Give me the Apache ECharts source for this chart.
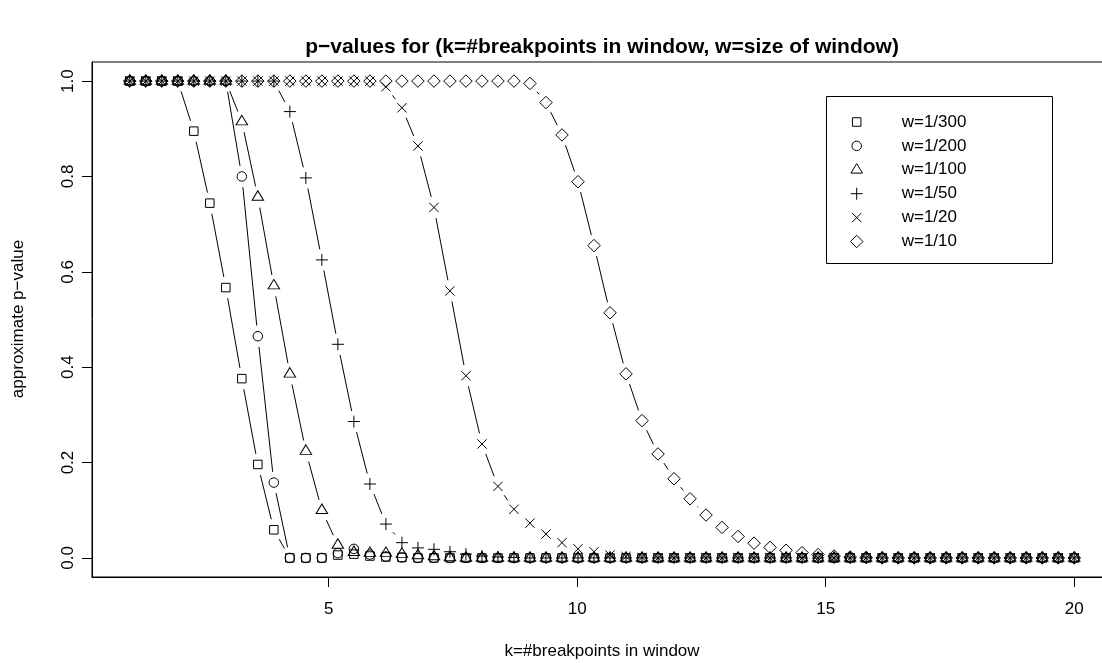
<!DOCTYPE html>
<html><head><meta charset="utf-8">
<script src="https://cdn.jsdelivr.net/npm/echarts@6/dist/echarts.min.js"></script>
<style>html,body{margin:0;padding:0;background:#fff}#c{width:1102px;height:663px}</style>
</head><body><div id="c"></div>
<script>
// ---- data ----
const kValues = [1.000,1.322,1.644,1.966,2.288,2.610,2.932,3.254,3.576,3.898,
  4.220,4.542,4.864,5.186,5.508,5.831,6.153,6.475,6.797,7.119,
  7.441,7.763,8.085,8.407,8.729,9.051,9.373,9.695,10.017,10.339,
  10.661,10.983,11.305,11.627,11.949,12.271,12.593,12.915,13.237,13.559,
  13.881,14.203,14.525,14.847,15.169,15.492,15.814,16.136,16.458,16.780,
  17.102,17.424,17.746,18.068,18.390,18.712,19.034,19.356,19.678,20.000];
const pW300 = [1,1,1,1,0.895,0.744,0.567,0.376,0.196,0.059,
  0,0,0,0.006,0.008,0.004,0.002,0.001,0,0,
  0,0,0,0,0,0,0,0,0,0, 0,0,0,0,0,0,0,0,0,0,
  0,0,0,0,0,0,0,0,0,0, 0,0,0,0,0,0,0,0,0,0];
const pW200 = [1,1,1,1,1,1,1,0.800,0.465,0.158,
  0,0,0,0.010,0.019,0.007,0.003,0.001,0,0,
  0,0,0,0,0,0,0,0,0,0, 0,0,0,0,0,0,0,0,0,0,
  0,0,0,0,0,0,0,0,0,0, 0,0,0,0,0,0,0,0,0,0];
const pW100 = [1,1,1,1,1,1,1,0.915,0.757,0.571,
  0.386,0.224,0.100,0.027,0.012,0.010,0.010,0.008,0.005,0.003,
  0.001,0,0,0,0,0,0,0,0,0, 0,0,0,0,0,0,0,0,0,0,
  0,0,0,0,0,0,0,0,0,0, 0,0,0,0,0,0,0,0,0,0];
const pW50 = [1,1,1,1,1,1,1,1,1,1,
  0.936,0.797,0.625,0.448,0.286,0.155,0.071,0.032,0.021,0.018,
  0.013,0.008,0.004,0.002,0.001,0,0,0,0,0,
  0,0,0,0,0,0,0,0,0,0, 0,0,0,0,0,0,0,0,0,0,
  0,0,0,0,0,0,0,0,0,0];
const pW20 = [1,1,1,1,1,1,1,1,1,1,
  1,1,1,1,1,1,0.988,0.944,0.864,0.735,
  0.560,0.382,0.239,0.150,0.102,0.073,0.050,0.032,0.019,0.013,
  0.006,0.003,0.001,0,0,0,0,0,0,0,
  0,0,0,0,0,0,0,0,0,0, 0,0,0,0,0,0,0,0,0,0];
const pW10 = [1,1,1,1,1,1,1,1,1,1,
  1,1,1,1,1,1,1,1,1,1,
  1,1,1,1,1,0.995,0.955,0.887,0.789,0.655,
  0.514,0.386,0.288,0.218,0.166,0.124,0.090,0.064,0.045,0.031,
  0.022,0.016,0.011,0.007,0.004,0.002,0.001,0,0,0,
  0,0,0,0,0,0,0,0,0,0];
const seriesNames = ['w=1/300','w=1/200','w=1/100','w=1/50','w=1/20','w=1/10'];
const xTicks = [5, 10, 15, 20];
const yTicks = [0, 0.2, 0.4, 0.6, 0.8, 1.0];
const titleText = 'p\u2212values for (k=#breakpoints in window, w=size of window)';
const xLabel = 'k=#breakpoints in window';
const yLabel = 'approximate p\u2212value';

// ---- styling ----
const FONT = 'Liberation Sans, Arial, Helvetica, sans-serif';
const allY = [pW300, pW200, pW100, pW50, pW20, pW10];
const symbols = [
  {symbol: 'rect', size: 8.5, offset: [0, 0]},
  {symbol: 'circle', size: 9.5, offset: [0, 0]},
  {symbol: 'triangle', size: [11.5, 9.5], offset: [0, -1.5]},
  {symbol: 'path://M0,6L12,6M6,0L6,12', size: 12, offset: [0, 0]},
  {symbol: 'path://M0,0L10,10M10,0L0,10', size: 9.3, offset: [0, 0]},
  {symbol: 'diamond', size: 12.5, offset: [0, 0]}
];
const GAP = 10.8;

function segRender(params, api) {
  const p0 = api.coord([api.value(0), api.value(1)]);
  const p1 = api.coord([api.value(2), api.value(3)]);
  const dx = p1[0] - p0[0], dy = p1[1] - p0[1];
  const L = Math.sqrt(dx * dx + dy * dy);
  if (L <= 2 * GAP) return {type: 'group', children: []};
  const ux = dx / L, uy = dy / L;
  return {
    type: 'line',
    shape: {x1: p0[0] + ux * GAP, y1: p0[1] + uy * GAP, x2: p1[0] - ux * GAP, y2: p1[1] - uy * GAP},
    style: {stroke: '#000', lineWidth: 1}
  };
}

const series = [];
allY.forEach((ys, s) => {
  const segs = [];
  for (let i = 1; i < kValues.length; i++) segs.push([kValues[i - 1], ys[i - 1], kValues[i], ys[i]]);
  series.push({
    type: 'custom', name: seriesNames[s] + ' lines', renderItem: segRender, data: segs,
    encode: {x: [0, 2], y: [1, 3]}, silent: true, clip: false, z: 2
  });
  series.push({
    type: 'scatter', name: seriesNames[s],
    data: kValues.map((k, i) => [k, ys[i]]),
    symbol: symbols[s].symbol, symbolSize: symbols[s].size, symbolOffset: symbols[s].offset,
    itemStyle: {color: 'rgba(0,0,0,0)', borderColor: '#000', borderWidth: 1, opacity: 1},
    silent: true, z: 3
  });
});

// legend drawn as graphic elements
const LX = 856.7, TX = 901.7, LY0 = 122, LDY = 23.9;
const legendEls = [{type: 'rect', shape: {x: 826.5, y: 96.5, width: 226, height: 167}, style: {fill: '#fff', stroke: '#000', lineWidth: 1}}];
function legendSymbol(s, cx, cy) {
  const st = {fill: 'none', stroke: '#000', lineWidth: 1};
  switch (s) {
    case 0: return {type: 'rect', shape: {x: cx - 4.25, y: cy - 4.25, width: 8.5, height: 8.5}, style: st};
    case 1: return {type: 'circle', shape: {cx: cx, cy: cy, r: 4.75}, style: st};
    case 2: return {type: 'polygon', shape: {points: [[cx, cy - 6.2], [cx + 5.75, cy + 3.3], [cx - 5.75, cy + 3.3]]}, style: st};
    case 3: return {type: 'group', children: [
      {type: 'line', shape: {x1: cx - 6, y1: cy, x2: cx + 6, y2: cy}, style: st},
      {type: 'line', shape: {x1: cx, y1: cy - 6, x2: cx, y2: cy + 6}, style: st}]};
    case 4: return {type: 'group', children: [
      {type: 'line', shape: {x1: cx - 4.65, y1: cy - 4.65, x2: cx + 4.65, y2: cy + 4.65}, style: st},
      {type: 'line', shape: {x1: cx - 4.65, y1: cy + 4.65, x2: cx + 4.65, y2: cy - 4.65}, style: st}]};
    default: return {type: 'polygon', shape: {points: [[cx, cy - 6.25], [cx + 6.25, cy], [cx, cy + 6.25], [cx - 6.25, cy]]}, style: st};
  }
}
seriesNames.forEach((n, s) => {
  const cy = LY0 + s * LDY;
  legendEls.push(legendSymbol(s, LX, cy));
  legendEls.push({type: 'text', x: TX, y: cy, style: {text: n, fill: '#000', font: '17px ' + FONT, textAlign: 'left', textVerticalAlign: 'middle'}});
});

const option = {
  backgroundColor: '#fff',
  animation: false,
  title: {
    text: titleText, left: 602, top: 37, textAlign: 'center', padding: 0,
    textStyle: {fontFamily: FONT, fontSize: 21, fontWeight: 'bold', color: '#000'}
  },
  grid: {left: 92, top: 62, width: 1020, height: 515, show: true, borderColor: '#000', borderWidth: 1,
    backgroundColor: 'transparent', containLabel: false, outerBoundsMode: 'none'},
  xAxis: {
    type: 'value', min: 0.24, max: 20.76,
    axisLine: {show: true, onZero: false, lineStyle: {color: '#000', width: 1}},
    splitLine: {show: false},
    axisTick: {show: true, customValues: xTicks, length: 10, inside: false, lineStyle: {color: '#000', width: 1}},
    axisLabel: {show: true, customValues: xTicks, margin: 24, fontSize: 17, fontFamily: FONT, color: '#000'}
  },
  yAxis: {
    type: 'value', min: -0.04, max: 1.04,
    axisLine: {show: true, onZero: false, lineStyle: {color: '#000', width: 1}},
    splitLine: {show: false},
    axisTick: {show: true, customValues: yTicks, length: 10, inside: false, lineStyle: {color: '#000', width: 1}},
    axisLabel: {show: true, customValues: yTicks, rotate: 90, margin: 15, fontSize: 17, fontFamily: FONT, color: '#000',
      formatter: v => Number(v).toFixed(1)}
  },
  graphic: [
    {type: 'text', x: 602, y: 651, style: {text: xLabel, fill: '#000', font: '17px ' + FONT, textAlign: 'center', textVerticalAlign: 'middle'}},
    {type: 'text', x: 18, y: 319, rotation: Math.PI / 2, style: {text: yLabel, fill: '#000', font: '17px ' + FONT, textAlign: 'center', textVerticalAlign: 'middle'}},
    {type: 'group', children: legendEls}
  ],
  series: series
};
const chart = echarts.init(document.getElementById('c'), null, {renderer: 'canvas'});
chart.setOption(option);
</script></body></html>
